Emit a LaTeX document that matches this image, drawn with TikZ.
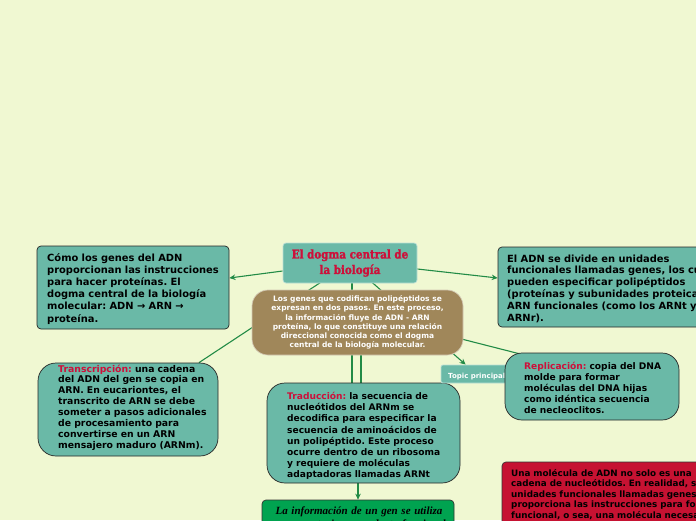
\documentclass[tikz,border=0pt]{standalone}
\usepackage{fontspec}
\newfontfamily\vfont{DejaVu Sans}
\newfontfamily\slab{DejaVu Serif Bold}[FakeStretch=0.86, FakeBold=1.6]
\newfontfamily\tfont{Liberation Serif}
\usetikzlibrary{arrows.meta}
\definecolor{bgc}{RGB}{240,248,210}
\definecolor{teal1}{RGB}{106,185,167}
\definecolor{brown1}{RGB}{160,135,90}
\definecolor{redt}{RGB}{205,16,58}
\definecolor{lineg}{RGB}{34,139,70}
\definecolor{redbox}{RGB}{198,18,50}
\definecolor{greenbox}{RGB}{0,163,80}
\pgfdeclarelayer{lines}
\pgfsetlayers{lines,main}
\tikzset{
  conn/.style={draw=lineg, line width=1.1pt},
  arr/.style={conn, -{Stealth[length=6pt,width=5.5pt]}},
  sqbox/.style={draw=black!85, line width=0.7pt, fill=teal1, rounded corners=4pt, inner sep=0pt},
  roundbox/.style={draw=black!85, line width=0.7pt, fill=teal1, rounded corners=17pt, inner sep=0pt},
  body/.style={font=\vfont\bfseries, inner sep=0pt, text width=260pt, align=left, anchor=base west},
}
\begin{document}
\frenchspacing
\begin{tikzpicture}[x=1pt,y=-1pt]
\useasboundingbox (0,0) rectangle (696,520);
% boxes
\node[sqbox, draw=white!55!teal1, rounded corners=3pt, minimum width=134pt, minimum height=40pt,
      font=\slab\fontsize{12}{15.5}\selectfont, text=redt, align=center] (title) at (350,263)
      {El dogma central de\\la biología};
\node[roundbox, fill=brown1, draw=white!55!brown1, rounded corners=16pt, minimum width=211pt, minimum height=65pt,
      font=\vfont\bfseries\fontsize{7.5}{9.3}\selectfont, text=white, align=center] (brown) at (357.5,322.5)
      {Los genes que codifican polipéptidos se\\expresan en dos pasos. En este proceso,\\la información fluye de ADN - ARN\\proteína, lo que constituye una relación\\direccional conocida como el dogma\\central de la biología molecular.};
\node[sqbox, minimum width=192pt, minimum height=83pt] (left) at (133,287.5) {};
\node[sqbox, minimum width=222pt, minimum height=80pt] (right) at (609,287) {};
\node[roundbox, rounded corners=18pt, minimum width=180pt, minimum height=93pt] (trans) at (128,409.5) {};
\node[roundbox, rounded corners=18pt, minimum width=193pt, minimum height=100pt] (trad) at (363.5,433) {};
\node[sqbox, draw=white!55!teal1, rounded corners=2pt, minimum width=89pt, minimum height=18pt] (topic) at (485.5,374) {};
\node[body, font=\vfont\bfseries\fontsize{7}{8}\selectfont, text=white] (topicT) at (448,378) {Topic principal};
\node[roundbox, rounded corners=17pt, minimum width=174pt, minimum height=67pt] (repl) at (592,386.5) {};
\node[sqbox, fill=redbox, draw=black!80, minimum width=228pt, minimum height=98pt] (red) at (616,511) {};
\node[sqbox, fill=greenbox, draw=black!80, minimum width=192pt, minimum height=60pt] (green) at (358,530) {};
% texts
\node[body, font=\vfont\bfseries\fontsize{9.9}{12.2}\selectfont] (leftT) at (47,261)
  {Cómo los genes del ADN\\proporcionan las instrucciones\\para hacer proteínas. El\\dogma central de la biología\\molecular: ADN → ARN →\\proteína.};
\node[body, font=\vfont\bfseries\fontsize{9.9}{11.8}\selectfont] (rightT) at (507,262)
  {El ADN se divide en unidades\\funcionales llamadas genes, los cuales\\pueden especificar polipéptidos\\(proteínas y subunidades proteicas) o\\ARN funcionales (como los ARNt y\\ARNr).};
\node[body, font=\vfont\bfseries\fontsize{9.3}{10.9}\selectfont] (transT) at (58,372)
  {\textcolor{redt}{Transcripción:} una cadena\\del ADN del gen se copia en\\ARN. En eucariontes, el\\transcrito de ARN se debe\\someter a pasos adicionales\\de procesamiento para\\convertirse en un ARN\\mensajero maduro (ARNm).};
\node[body, font=\vfont\bfseries\fontsize{9.1}{11.2}\selectfont] (tradT) at (287,399.5)
  {\textcolor{redt}{Traducción:} la secuencia de\\nucleótidos del ARNm se\\decodifica para especificar la\\secuencia de aminoácidos de\\un polipéptido. Este proceso\\ocurre dentro de un ribosoma\\y requiere de moléculas\\adaptadoras llamadas ARNt};
\node[body, font=\vfont\bfseries\fontsize{9.1}{11}\selectfont] (replT) at (524,369.5)
  {\textcolor{redt}{Replicación:} copia del DNA\\molde para formar\\moléculas del DNA hijas\\como idéntica secuencia\\de necleoclitos.};
\node[body, font=\vfont\bfseries\fontsize{8.8}{10.4}\selectfont] (redT) at (511,476.5)
  {Una molécula de ADN no solo es una\\cadena de nucleótidos. En realidad, se\\unidades funcionales llamadas genes. Cada\\proporciona las instrucciones para formar\\funcional, o sea, una molécula necesaria};
\node[inner sep=0pt, anchor=base, font=\tfont\bfseries\itshape\fontsize{11}{12.5}\selectfont, align=center, text width=200pt] (greenT) at (359,514.5)
  {La información de un gen se utiliza\\para construir un producto funcional};
% connectors
\begin{pgfonlayer}{lines}
\fill[bgc] (0,0) rectangle (696,520);
\draw[arr] ([yshift=-8pt]title.west) -- ([yshift=9.5pt]left.east);
\draw[arr] ([yshift=-6pt]title.east) -- ([yshift=9pt]right.west);
\draw[conn] (title.center) -- (trans);
\draw[conn] ([xshift=2pt]title.south) -- ([xshift=2pt]title.south |- trad.north);
\draw[conn] ([xshift=3.5pt]brown.south) -- ([xshift=3.5pt]brown.south |- trad.north);
\draw[arr] (green.north |- trad.south) -- (green.north);
\draw[arr] (title.center) -- ([xshift=25pt]topic.north west);
\draw[conn] ([yshift=10pt]brown.center) -- ([xshift=30pt,yshift=-5pt]repl.north west);
\end{pgfonlayer}
\end{tikzpicture}
\end{document}
